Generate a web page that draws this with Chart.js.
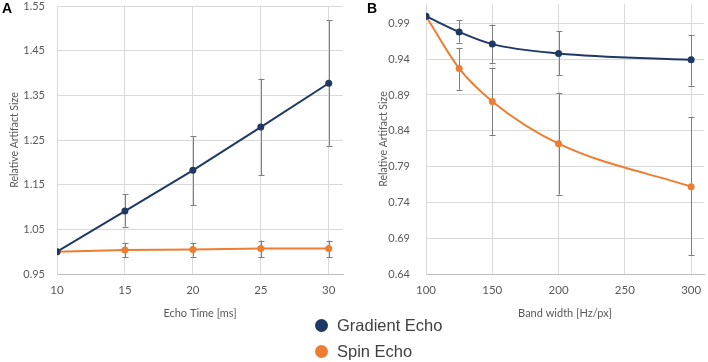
<!DOCTYPE html>
<html>
<head>
<meta charset="utf-8">
<script src="https://cdn.jsdelivr.net/npm/chart.js@4"></script>
<style>
  body { margin: 0; background: #fff; }
  #wrap { position: relative; width: 708px; height: 362px; overflow: hidden; font-family: Lato, sans-serif; }
  #boxA { position: absolute; left: 0; top: 0; width: 350px; height: 330px; }
  #boxB { position: absolute; left: 360px; top: 0; width: 348px; height: 330px; }
  .tag { position: absolute; font: bold 14px "Liberation Sans", Arial, sans-serif; color: #000; }
  #legend { position: absolute; left: 315px; top: 312px; }
  .row { height: 26px; display: flex; align-items: center; font: 16.5px "Liberation Sans", Arial, sans-serif; color: #404040; }
  .dot { width: 13px; height: 13px; border-radius: 50%; margin-right: 9px; }
</style>
</head>
<body>
<div id="wrap">
  <div id="boxA"><canvas id="chartA"></canvas></div>
  <div id="boxB"><canvas id="chartB"></canvas></div>
  <div class="tag" style="left:2px;top:0px;">A</div>
  <div class="tag" style="left:367px;top:0px;">B</div>
  <div id="legend">
    <div class="row"><span class="dot" style="background:#1F3864"></span>Gradient Echo</div>
    <div class="row"><span class="dot" style="background:#ED7D31"></span>Spin Echo</div>
  </div>
</div>
<script>
// panel A - echo time
const echoTime = [10, 15, 20, 25, 30];
const gradA = [1.0, 1.091, 1.182, 1.279, 1.377];
const gradALow = [1.0, 1.056, 1.104, 1.171, 1.237];
const gradAHigh = [1.0, 1.128, 1.259, 1.387, 1.518];
const spinA = [1.0, 1.004, 1.005, 1.007, 1.007];
const spinALow = [1.0, 0.987, 0.989, 0.988, 0.988];
const spinAHigh = [1.0, 1.020, 1.020, 1.025, 1.025];
const ticksAX = [10, 15, 20, 25, 30];
const ticksAY = [0.95, 1.05, 1.15, 1.25, 1.35, 1.45, 1.55];

// panel B - band width
const bandWidth = [100, 125, 150, 200, 300];
const gradB = [1.0, 0.978, 0.961, 0.948, 0.939];
const gradBLow = [1.0, 0.963, 0.934, 0.918, 0.903];
const gradBHigh = [1.0, 0.994, 0.988, 0.979, 0.974];
const spinB = [1.0, 0.927, 0.881, 0.822, 0.762];
const spinBLow = [1.0, 0.897, 0.834, 0.751, 0.666];
const spinBHigh = [1.0, 0.956, 0.927, 0.893, 0.859];
const ticksBX = [100, 150, 200, 250, 300];
const ticksBY = [0.64, 0.69, 0.74, 0.79, 0.84, 0.89, 0.94, 0.99];

const BLUE = '#1F3864';
const ORANGE = '#ED7D31';
const GRID = '#D9D9D9';
const TXT = '#595959';

const errorBars = {
    id: 'errorBars',
    beforeDatasetsDraw(chart) {
        const ctx = chart.ctx;
        const xs = chart.scales.x, ys = chart.scales.y;
        ctx.save();
        ctx.strokeStyle = '#7F7F7F';
        ctx.lineWidth = 1;
        chart.data.datasets.forEach(ds => {
            ds.data.forEach((p, i) => {
                const lo = ds.errLow[i], hi = ds.errHigh[i];
                if (lo === hi) return;
                const x = Math.round(xs.getPixelForValue(p.x)) + 0.5;
                const y1 = ys.getPixelForValue(lo), y2 = ys.getPixelForValue(hi);
                ctx.beginPath();
                ctx.moveTo(x, y1); ctx.lineTo(x, y2);
                ctx.moveTo(x - 3, Math.round(y1) + 0.5); ctx.lineTo(x + 3, Math.round(y1) + 0.5);
                ctx.moveTo(x - 3, Math.round(y2) + 0.5); ctx.lineTo(x + 3, Math.round(y2) + 0.5);
                ctx.stroke();
            });
        });
        ctx.restore();
    }
};

function series(xs, ys, lo, hi, color, tension) {
    return {
        data: xs.map((x, i) => ({ x: x, y: ys[i] })),
        errLow: lo,
        errHigh: hi,
        borderColor: color,
        backgroundColor: color,
        borderWidth: 2,
        pointRadius: 3.5,
        pointBorderWidth: 0,
        tension: tension,
        cubicInterpolationMode: tension ? 'monotone' : 'default'
    };
}

function makeChart(id, cfg) {
    const chart = new Chart(document.getElementById(id), {
        type: 'line',
        data: { datasets: cfg.datasets },
        plugins: [errorBars],
        options: {
            responsive: true,
            maintainAspectRatio: false,
            animation: false,
            layout: { padding: { top: cfg.padTop, right: cfg.padRight, bottom: 6, left: 0 } },
            plugins: { legend: { display: false }, tooltip: { enabled: false } },
            scales: {
                x: {
                    type: 'linear',
                    min: cfg.xMin, max: cfg.xMax,
                    afterBuildTicks: s => { s.ticks = cfg.xTicks.map(v => ({ value: v })); },
                    afterFit: s => { s.height = 50; s.paddingLeft = 0; s.paddingRight = 0; },
                    grid: { color: GRID, drawTicks: false },
                    border: { color: '#BFBFBF' },
                    ticks: {
                        color: TXT, padding: 9, maxRotation: 0,
                        font: { family: 'Lato', size: 11.5 }
                    },
                    title: { display: true, text: cfg.xTitle, color: TXT, font: { family: 'Lato', size: 11 }, padding: { top: 3 } }
                },
                y: {
                    min: cfg.yMin, max: cfg.yMax,
                    afterBuildTicks: s => { s.ticks = cfg.yTicks.map(v => ({ value: v })); },
                    afterFit: s => { s.width = cfg.yWidth; s.paddingTop = 0; s.paddingBottom = 0; },
                    grid: { color: GRID, drawTicks: false },
                    border: { color: GRID },
                    ticks: {
                        color: TXT, padding: cfg.yPad,
                        font: { family: 'Lato', size: 11 },
                        callback: v => v.toFixed(2)
                    },
                    title: { display: true, text: 'Relative Artifact Size', color: TXT, font: { family: 'Lato', size: 10.5 }, padding: { top: cfg.titlePad, bottom: 0 } }
                }
            }
        }
    });
    // nudge the plot's right edge to where it sits in the figure
    const off = chart.chartArea.right - cfg.plotRight;
    if (Math.abs(off) > 0.5) {
        chart.options.layout.padding.right = cfg.padRight + off;
        chart.update();
    }
    return chart;
}

makeChart('chartA', {
    datasets: [
        series(echoTime, gradA, gradALow, gradAHigh, BLUE, 0),
        series(echoTime, spinA, spinALow, spinAHigh, ORANGE, 0)
    ],
    xMin: 10, xMax: 31.05, xTicks: ticksAX, xTitle: 'Echo Time [ms]',
    yMin: 0.95, yMax: 1.55, yTicks: ticksAY,
    yWidth: 57, yPad: 12, padTop: 6, padRight: 7, titlePad: 8, plotRight: 343
});

makeChart('chartB', {
    datasets: [
        series(bandWidth, gradB, gradBLow, gradBHigh, BLUE, 0.4),
        series(bandWidth, spinB, spinBLow, spinBHigh, ORANGE, 0.4)
    ],
    xMin: 100, xMax: 309.7, xTicks: ticksBX, xTitle: 'Band width [Hz/px]',
    yMin: 0.64, yMax: 1.017, yTicks: ticksBY,
    yWidth: 66, yPad: 16, padTop: 0, padRight: 0, titlePad: 17, plotRight: 348
});
</script>
</body>
</html>
